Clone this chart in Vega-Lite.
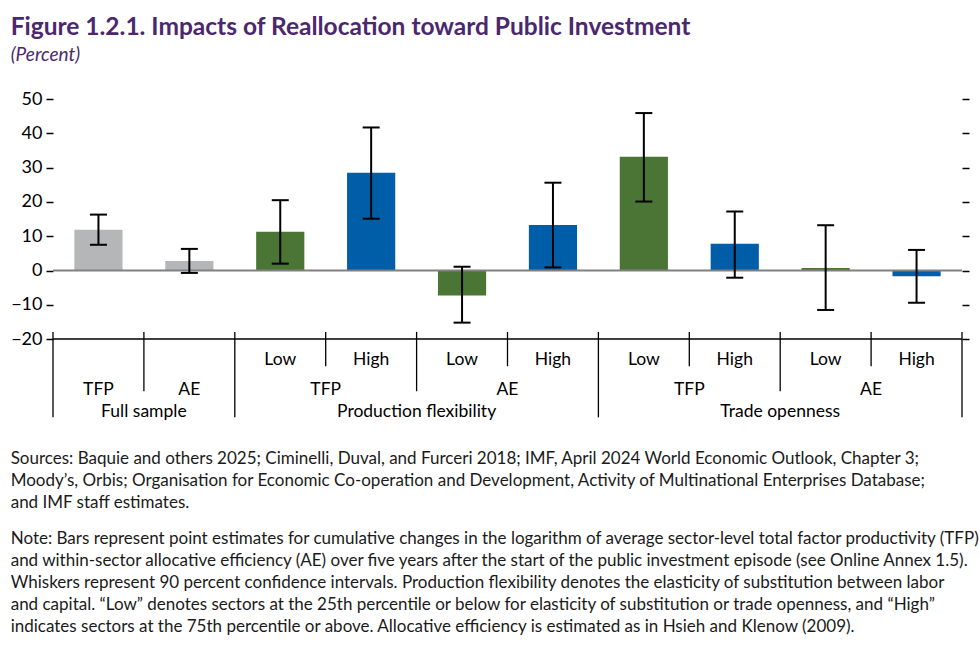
{
  "$schema": "https://vega.github.io/schema/vega-lite/v6.json",
  "background": "white",
  "padding": {"left": 10, "top": 14, "right": 4, "bottom": 2},
  "config": {
    "font": "Lato",
    "view": {"stroke": null},
    "text": {"font": "Lato", "fontSize": 17.5, "color": "#000000"}
  },
  "title": {
    "text": "Figure 1.2.1. Impacts of Reallocation toward Public Investment",
    "subtitle": "(Percent)",
    "anchor": "start",
    "frame": "bounds",
    "font": "Lato",
    "fontSize": 24.5,
    "fontWeight": "bold",
    "color": "#4a2870",
    "subtitleFont": "Lato",
    "subtitleFontSize": 19,
    "subtitleFontStyle": "italic",
    "subtitleColor": "#4a2870",
    "subtitlePadding": 6,
    "offset": 24
  },
  "datasets": {
    "bars": [
      {"id": "FS_TFP", "group": "Full sample", "measure": "TFP", "level": "", "kind": "Full sample", "value": 11.9, "lower": 7.5, "upper": 16.3},
      {"id": "FS_AE", "group": "Full sample", "measure": "AE", "level": "", "kind": "Full sample", "value": 2.8, "lower": -0.7, "upper": 6.3},
      {"id": "PF_TFP_Low", "group": "Production flexibility", "measure": "TFP", "level": "Low", "kind": "Low", "value": 11.3, "lower": 2.0, "upper": 20.5},
      {"id": "PF_TFP_High", "group": "Production flexibility", "measure": "TFP", "level": "High", "kind": "High", "value": 28.5, "lower": 15.1, "upper": 41.7},
      {"id": "PF_AE_Low", "group": "Production flexibility", "measure": "AE", "level": "Low", "kind": "Low", "value": -7.3, "lower": -15.2, "upper": 1.1},
      {"id": "PF_AE_High", "group": "Production flexibility", "measure": "AE", "level": "High", "kind": "High", "value": 13.3, "lower": 0.9, "upper": 25.6},
      {"id": "TO_TFP_Low", "group": "Trade openness", "measure": "TFP", "level": "Low", "kind": "Low", "value": 33.2, "lower": 20.1, "upper": 45.9},
      {"id": "TO_TFP_High", "group": "Trade openness", "measure": "TFP", "level": "High", "kind": "High", "value": 7.8, "lower": -2.1, "upper": 17.2},
      {"id": "TO_AE_Low", "group": "Trade openness", "measure": "AE", "level": "Low", "kind": "Low", "value": 0.7, "lower": -11.5, "upper": 13.2},
      {"id": "TO_AE_High", "group": "Trade openness", "measure": "AE", "level": "High", "kind": "High", "value": -1.7, "lower": -9.4, "upper": 6.0}
    ]
  },
  "vconcat": [
    {
      "width": 909,
      "height": 319,
      "title": {
        "text": [
          "Sources: Baquie and others 2025; Ciminelli, Duval, and Furceri 2018; IMF, April 2024 World Economic Outlook, Chapter 3;",
          "Moody’s, Orbis; Organisation for Economic Co-operation and Development, Activity of Multinational Enterprises Database;",
          "and IMF staff estimates."
        ],
        "subtitle": [
          "Note: Bars represent point estimates for cumulative changes in the logarithm of average sector-level total factor productivity (TFP)",
          "and within-sector allocative efficiency (AE) over five years after the start of the public investment episode (see Online Annex 1.5).",
          "Whiskers represent 90 percent confidence intervals. Production flexibility denotes the elasticity of substitution between labor",
          "and capital. “Low” denotes sectors at the 25th percentile or below for elasticity of substitution or trade openness, and “High”",
          "indicates sectors at the 75th percentile or above. Allocative efficiency is estimated as in Hsieh and Klenow (2009)."
        ],
        "orient": "bottom",
        "anchor": "start",
        "frame": "bounds",
        "font": "Lato",
        "fontSize": 17,
        "fontWeight": "normal",
        "color": "#1a1a1a",
        "lineHeight": 22,
        "subtitleFont": "Lato",
        "subtitleFontSize": 17,
        "subtitleLineHeight": 22,
        "subtitleColor": "#1a1a1a",
        "subtitlePadding": 19,
        "offset": 31
      },
      "data": {"name": "bars"},
      "resolve": {"axis": {"y": "independent"}},
      "encoding": {
        "x": {
          "field": "id",
          "type": "nominal",
          "sort": null,
          "scale": {
            "domain": ["FS_TFP", "FS_AE", "PF_TFP_Low", "PF_TFP_High", "PF_AE_Low", "PF_AE_High", "TO_TFP_Low", "TO_TFP_High", "TO_AE_Low", "TO_AE_High"],
            "paddingInner": 0,
            "paddingOuter": 0
          },
          "axis": null
        }
      },
      "layer": [
        {
          "mark": {"type": "bar", "width": {"band": 0.53}},
          "encoding": {
            "y": {
              "field": "value",
              "type": "quantitative",
              "scale": {"domain": [-43, 50], "nice": false, "zero": false},
              "axis": {
                "orient": "left",
                "values": [-20, -10, 0, 10, 20, 30, 40, 50],
                "domain": false,
                "grid": false,
                "tickSize": 7,
                "tickWidth": 1.5,
                "tickColor": "#000000",
                "labelFont": "Lato",
                "labelFontSize": 18,
                "labelColor": "#000000",
                "labelPadding": 4,
                "minExtent": 42,
                "maxExtent": 42,
                "title": null
              }
            },
            "y2": {"datum": 0},
            "color": {
              "field": "kind",
              "type": "nominal",
              "scale": {"domain": ["Full sample", "Low", "High"], "range": ["#b5b6b8", "#4a7535", "#005ea9"]},
              "legend": null
            }
          }
        },
        {
          "data": {"values": [{"line": "zero"}]},
          "mark": {"type": "rule", "color": "#808080", "strokeWidth": 2},
          "encoding": {
            "x": null,
            "y": {
              "datum": 0,
              "type": "quantitative",
              "axis": {
                "orient": "right",
                "values": [-20, -10, 0, 10, 20, 30, 40, 50],
                "labels": false,
                "domain": false,
                "grid": false,
                "tickSize": 7,
                "tickWidth": 1.5,
                "tickColor": "#000000",
                "title": null
              }
            }
          }
        },
        {
          "data": {"values": [{"line": "base"}]},
          "mark": {"type": "rule", "color": "#000000", "strokeWidth": 1.5},
          "encoding": {"x": null, "y": {"datum": -20, "type": "quantitative", "axis": null}}
        },
        {
          "mark": {"type": "rule", "color": "#000000", "strokeWidth": 2},
          "encoding": {
            "y": {"field": "lower", "type": "quantitative", "axis": null},
            "y2": {"field": "upper"}
          }
        },
        {
          "transform": [{"fold": ["lower", "upper"], "as": ["bound", "bv"]}],
          "mark": {"type": "tick", "color": "#000000", "thickness": 2, "size": 17, "opacity": 1},
          "encoding": {"y": {"field": "bv", "type": "quantitative", "axis": null}}
        },
        {
          "transform": [{"filter": "datum.measure === 'TFP' && datum.level !== 'High'"}],
          "mark": {"type": "rule", "color": "#000000", "strokeWidth": 1.3},
          "encoding": {
            "x": {"field": "id", "type": "nominal", "bandPosition": 0},
            "y": {"datum": -17.9, "type": "quantitative", "axis": null},
            "y2": {"datum": -42.8}
          }
        },
        {
          "transform": [{"filter": "datum.id === 'TO_AE_High'"}],
          "mark": {"type": "rule", "color": "#000000", "strokeWidth": 1.3},
          "encoding": {
            "x": {"field": "id", "type": "nominal", "bandPosition": 1},
            "y": {"datum": -17.9, "type": "quantitative", "axis": null},
            "y2": {"datum": -42.8}
          }
        },
        {
          "transform": [{"filter": "datum.measure === 'AE' && datum.level !== 'High'"}],
          "mark": {"type": "rule", "color": "#000000", "strokeWidth": 1.3},
          "encoding": {
            "x": {"field": "id", "type": "nominal", "bandPosition": 0},
            "y": {"datum": -17.9, "type": "quantitative", "axis": null},
            "y2": {"datum": -35.2}
          }
        },
        {
          "transform": [{"filter": "datum.level === 'High'"}],
          "mark": {"type": "rule", "color": "#000000", "strokeWidth": 1.3},
          "encoding": {
            "x": {"field": "id", "type": "nominal", "bandPosition": 0},
            "y": {"datum": -17.9, "type": "quantitative", "axis": null},
            "y2": {"datum": -27.9}
          }
        },
        {
          "transform": [{"filter": "datum.level !== ''"}],
          "mark": {"type": "text", "baseline": "alphabetic", "align": "center"},
          "encoding": {
            "y": {"datum": -27.6, "type": "quantitative", "axis": null},
            "text": {"field": "level"}
          }
        },
        {
          "transform": [{"filter": "datum.group === 'Full sample'"}],
          "mark": {"type": "text", "baseline": "alphabetic", "align": "center"},
          "encoding": {
            "y": {"datum": -36.2, "type": "quantitative", "axis": null},
            "text": {"field": "measure"}
          }
        },
        {
          "transform": [{"filter": "datum.level === 'Low'"}],
          "mark": {"type": "text", "baseline": "alphabetic", "align": "center"},
          "encoding": {
            "x": {"field": "id", "type": "nominal", "bandPosition": 1},
            "y": {"datum": -36.2, "type": "quantitative", "axis": null},
            "text": {"field": "measure"}
          }
        },
        {
          "transform": [{"filter": "datum.measure === 'TFP' && datum.level !== 'Low'"}],
          "mark": {"type": "text", "baseline": "alphabetic", "align": "center"},
          "encoding": {
            "x": {"field": "id", "type": "nominal", "bandPosition": 1},
            "y": {"datum": -42.6, "type": "quantitative", "axis": null},
            "text": {"field": "group"}
          }
        }
      ]
    }
  ]
}
